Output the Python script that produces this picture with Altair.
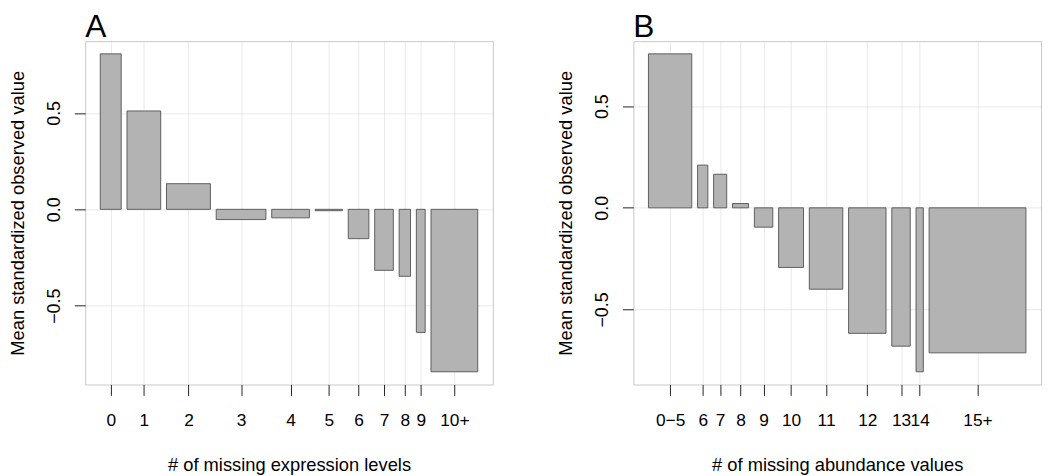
import json
import altair as alt
import pandas as pd

# ---- data ----
labels_a = ["0", "1", "2", "3", "4", "5", "6", "7", "8", "9", "10+"]
values_a = [0.806, 0.51, 0.133, -0.053, -0.044, -0.007, -0.152, -0.316, -0.347, -0.638, -0.842]
widths_a = [21.3, 34.3, 44.7, 50.6, 38.4, 27.7, 21.0, 19.0, 11.6, 9.0, 47.6]

labels_b = ["0\u22125", "6", "7", "8", "9", "10", "11", "12", "13", "14", "15+"]
values_b = [0.757, 0.21, 0.165, 0.021, -0.095, -0.293, -0.40, -0.617, -0.68, -0.806, -0.713]
widths_b = [44.0, 10.4, 13.3, 16.3, 18.7, 25.3, 34.0, 38.0, 18.7, 7.4, 98.3]

YTITLE = "Mean standardized observed value"


def panel(labels, values, widths, letter, xtitle):
    # barplot geometry: space of 0.2 * mean width before every bar
    space = 0.2 * sum(widths) / len(widths)
    left, right = [], []
    pos = 0.0
    for w in widths:
        pos += space
        left.append(round(pos, 4))
        pos += w
        right.append(round(pos, 4))
    centers = [round((l + r) / 2, 3) for l, r in zip(left, right)]
    xr = right[-1] - left[0]
    xdom = [left[0] - 0.04 * xr, right[-1] + 0.04 * xr]
    lo, hi = min(0.0, min(values)), max(0.0, max(values))
    yr = hi - lo
    ydom = [lo - 0.04 * yr, hi + 0.04 * yr]

    df = pd.DataFrame({"lab": labels, "v": values, "x0": left, "x1": right,
                       "zero": [0.0] * len(values)})
    label_expr = (json.dumps(labels, ensure_ascii=False).replace('"', "'")
                  + "[indexof(" + json.dumps(centers) + ", datum.value)]")

    return alt.Chart(df).mark_rect(
        fill="#b3b3b3", stroke="#5e5e5e", strokeWidth=1
    ).encode(
        x=alt.X("x0:Q",
                scale=alt.Scale(domain=xdom, nice=False, zero=False),
                axis=alt.Axis(values=centers, labelExpr=label_expr, title=xtitle,
                              labelAngle=0, labelPadding=16, titlePadding=27,
                              labelFontSize=17.5,
                              labelOverlap=False, labelFlush=False,
                              labelBaseline="top")),
        x2="x1:Q",
        y=alt.Y("v:Q",
                scale=alt.Scale(domain=ydom, nice=False, zero=False),
                axis=alt.Axis(values=[-0.5, 0.0, 0.5], format=".1f", title=YTITLE,
                              labelAngle=270, labelAlign="center",
                              labelBaseline="bottom", labelPadding=11,
                              labelFontSize=18,
                              titlePadding=18, labelOverlap=False,
                              labelFlush=False)),
        y2="zero:Q",
        tooltip=["lab:N", "v:Q"],
    ).properties(
        width=412, height=347,
        title=alt.TitleParams(letter, anchor="start", frame="group", fontSize=32,
                              fontWeight="normal", offset=-3, color="#000000"),
    )


pa = panel(labels_a, values_a, widths_a, "A", "# of missing expression levels")
pb = panel(labels_b, values_b, widths_b, "B", "# of missing abundance values")

chart = alt.hconcat(pa, pb, spacing=63).properties(
    padding={"left": 0, "top": 0, "right": 0, "bottom": 0}
).configure(
    font="Liberation Sans"
).configure_view(
    stroke="#c8c8c8", strokeWidth=1
).configure_axis(
    domain=False,
    grid=True, gridColor="#cacaca", gridOpacity=0.43, gridWidth=1,
    zindex=1,
    tickColor="#222222", tickSize=11, tickWidth=1,
    labelColor="#000000",
    titleFontSize=18.5, titleColor="#000000", titleFontWeight="normal",
)

chart.save("out.html", embed_options={"renderer": "svg", "actions": False})
